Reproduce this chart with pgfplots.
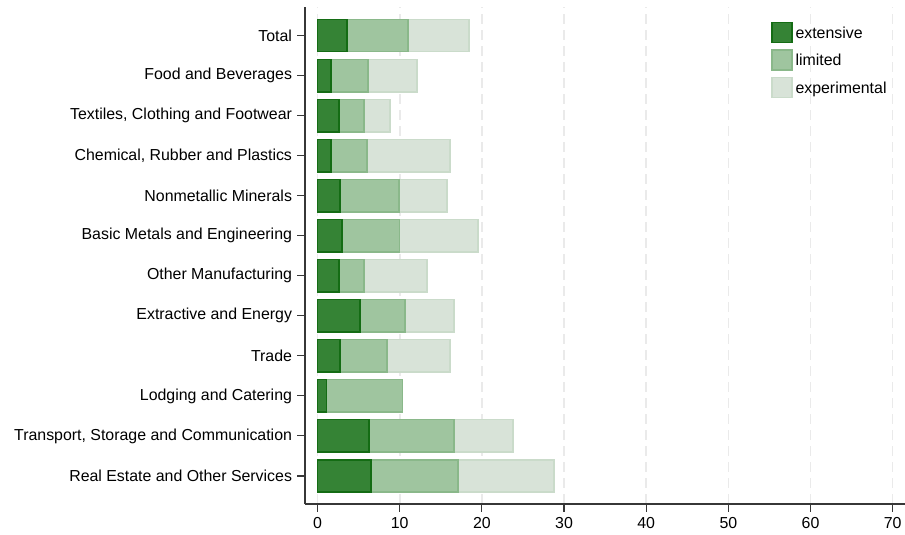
\documentclass[border=0pt]{standalone}
\usepackage{pgfplots}
\pgfplotsset{compat=1.18}
\usepackage{fontspec}
\setmainfont{Liberation Sans}

\definecolor{extfill}{RGB}{53,131,53}
\definecolor{extline}{RGB}{20,108,20}
\definecolor{limfill}{RGB}{159,197,159}
\definecolor{limline}{RGB}{138,184,138}
\definecolor{expfill}{RGB}{216,227,216}
\definecolor{expline}{RGB}{202,219,202}
\definecolor{gridc}{RGB}{234,234,234}
\definecolor{axisc}{RGB}{55,55,55}

\begin{document}
\fontsize{15.9bp}{19bp}\selectfont
\begin{tikzpicture}
\begin{axis}[
  scale only axis,
  width=600bp, height=497.3bp,
  xbar stacked, bar width=32.4bp,
  xmin=-1.53, xmax=71.5,
  ymin=-0.7, ymax=11.72,
  axis x line*=bottom, axis y line*=left,
  axis line style={axisc, line width=1.1bp},
  tick style={axisc, line width=1.1bp},
  tick align=outside, major tick length=7.5bp,
  xtick={0,10,...,70},
  ytick={0,...,11},
  yticklabels={Real Estate and Other Services,
    {Transport, Storage and Communication},
    Lodging and Catering, Trade, Extractive and Energy,
    Other Manufacturing, Basic Metals and Engineering,
    Nonmetallic Minerals, {Chemical, Rubber and Plastics},
    {Textiles, Clothing and Footwear}, Food and Beverages, Total},
  xmajorgrids,
  major x grid style={gridc, line width=1.6bp, dash pattern=on 10bp off 6bp},
  /pgf/number format/assume math mode=true,
  ticklabel style={font=\fontsize{15.9bp}{19bp}\selectfont},
  legend style={at={(axis description cs:0.7767,0.9698)}, anchor=north west,
    draw=none, fill=none, inner sep=0pt, outer sep=0pt, row sep=6bp,
    nodes={inner sep=1bp},
    font=\fontsize{15.9bp}{19bp}\selectfont,
    /tikz/every odd column/.append style={column sep=2bp}},
  legend cell align=left,
  legend image code/.code={\draw[#1] (0bp,-9bp) rectangle (20bp,11bp);},
]
% share of firms by industry: extensive, limited, experimental
\addplot[fill=extfill, draw=extline, line width=1.5bp] coordinates {
  (3.57,11) (1.62,10) (2.60,9) (1.62,8) (2.72,7) (3.00,6)
  (2.60,5) (5.15,4) (2.72,3) (1.10,2) (6.25,1) (6.49,0)};
\addlegendentry{extensive}
\addplot[fill=limfill, draw=limline, line width=1.5bp] coordinates {
  (7.43,11) (4.51,10) (3.04,9) (4.38,8) (7.18,7) (7.00,6)
  (3.04,5) (5.52,4) (5.76,3) (9.24,2) (10.38,1) (10.63,0)};
\addlegendentry{limited}
\addplot[fill=expfill, draw=expline, line width=1.5bp] coordinates {
  (7.46,11) (5.96,10) (3.16,9) (10.10,8) (5.84,7) (9.50,6)
  (7.71,5) (5.96,4) (7.62,3) (0,2) (7.14,1) (11.64,0)};
\addlegendentry{experimental}
\coordinate (sw) at (rel axis cs:0,0);
\coordinate (ne) at (rel axis cs:1,1);
\end{axis}
\pgfresetboundingbox
\path[use as bounding box] ([xshift=-305bp,yshift=-31bp]sw) rectangle ([yshift=6.7bp]ne);
\end{tikzpicture}
\end{document}
